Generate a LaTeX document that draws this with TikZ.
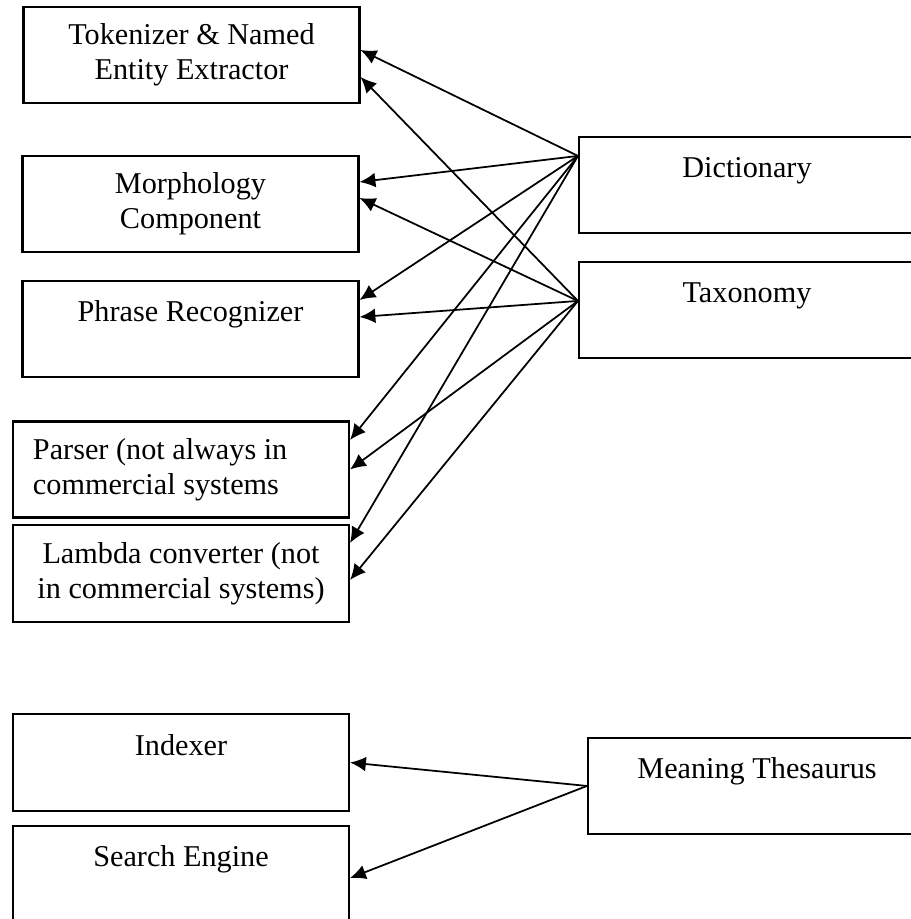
\documentclass[tikz,border=0pt]{standalone}
\usepackage{fontspec}
\setmainfont{Liberation Serif}
\usepackage{tikz}
\usetikzlibrary{arrows.meta,positioning}

\begin{document}
\begin{tikzpicture}
\tikzset{box/.style = {draw, rectangle, line width=.6pt, minimum width=3.36cm, minimum height=.96cm, inner sep=0pt, align=center, font=\fontsize{8.6pt}{10pt}\selectfont}}
\tikzset{edge/.style = {line width=.5pt, -{Latex[length=4.5pt,width=4.2pt]}}}
\useasboundingbox (0,0) rectangle (9.1,-9.19);
%left column, text processing components
\node[box] (tok) at (1.915,-.55) {Tokenizer \& Named\\Entity Extractor};
\node[box] (morph) at (1.905,-2.04) {Morphology\\Component};
\node[box] (phrase) at (1.905,-3.29) {Phrase Recognizer\\\mbox{}};
\node[box, align=flush left, text width=2.96cm] (parser) at (1.81,-4.695) {Parser (not always in\\commercial systems};
\node[box, minimum height=.97cm] (lambda) at (1.81,-5.735) {Lambda converter (not\\in commercial systems)};
%left column, index and search
\node[box, minimum height=.97cm] (idx) at (1.81,-7.625) {Indexer\\\mbox{}};
\node[box] (search) at (1.81,-8.74) {Search Engine\\\mbox{}};
%right column, resources (cut at the right edge)
\node[box] (dict) at (7.47,-1.85) {Dictionary\\\mbox{}};
\node[box] (tax) at (7.47,-3.10) {Taxonomy\\\mbox{}};
\node[box, minimum width=3.38cm] (thes) at (7.57,-7.86) {Meaning Thesaurus\\\mbox{}};
%where the arrows leave the resources
\coordinate (dictsrc) at ([yshift=-.2cm]dict.north west);
\coordinate (taxsrc) at ([yshift=-.4cm]tax.north west);
\coordinate (thessrc) at ([yshift=-.49cm]thes.north west);
%dictionary feeds every component
\draw[edge] (dictsrc) -- ([yshift=.05cm]tok.east);
\draw[edge] (dictsrc) -- ([yshift=.22cm]morph.east);
\draw[edge] (dictsrc) -- ([yshift=.29cm]phrase.east);
\draw[edge] (dictsrc) -- ([yshift=.295cm]parser.east);
\draw[edge] (dictsrc) -- ([yshift=.305cm]lambda.east);
%taxonomy feeds every component
\draw[edge] (taxsrc) -- ([yshift=-.22cm]tok.east);
\draw[edge] (taxsrc) -- ([yshift=.06cm]morph.east);
\draw[edge] (taxsrc) -- ([yshift=.12cm]phrase.east);
\draw[edge] (taxsrc) -- (parser.east);
\draw[edge] (taxsrc) -- ([yshift=-.065cm]lambda.east);
%thesaurus
\draw[edge] (thessrc) -- (idx.east);
\draw[edge] (thessrc) -- ([yshift=-.04cm]search.east);
\end{tikzpicture}
\end{document}
